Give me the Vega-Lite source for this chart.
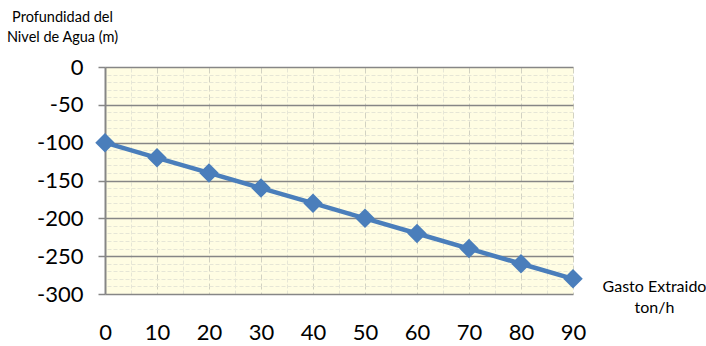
{
  "$schema": "https://vega.github.io/schema/vega-lite/v6.json",
  "width": 468,
  "height": 227,
  "autosize": {"type": "none"},
  "padding": {"left": 105, "top": 67, "right": 133, "bottom": 52},
  "background": "white",
  "config": {
    "view": {"fill": "#fffde3", "stroke": null},
    "font": "Lato"
  },
  "data": {
    "values": [
      {"gasto": 0, "prof": -100},
      {"gasto": 10, "prof": -120},
      {"gasto": 20, "prof": -140},
      {"gasto": 30, "prof": -160},
      {"gasto": 40, "prof": -180},
      {"gasto": 50, "prof": -200},
      {"gasto": 60, "prof": -220},
      {"gasto": 70, "prof": -240},
      {"gasto": 80, "prof": -260},
      {"gasto": 90, "prof": -280}
    ]
  },
  "resolve": {"axis": {"x": "independent", "y": "independent"}},
  "layer": [
    {
      "mark": {"type": "line", "color": "#4a7ebb", "strokeWidth": 4.5},
      "encoding": {
        "x": {
          "field": "gasto", "type": "quantitative",
          "scale": {"domain": [0, 90], "nice": false, "zero": false},
          "axis": {
            "orient": "top", "values": [5, 15, 25, 35, 45, 55, 65, 75, 85],
            "labels": false, "ticks": false, "domain": false, "title": null,
            "grid": true, "gridColor": "#e6e6d6", "gridDash": [4, 2], "gridWidth": 1
          }
        },
        "y": {
          "field": "prof", "type": "quantitative",
          "scale": {"domain": [-300, 0], "nice": false},
          "axis": {
            "orient": "right",
            "values": [-10, -20, -30, -40, -60, -70, -80, -90, -110, -120, -130, -140, -160, -170, -180, -190, -210, -220, -230, -240, -260, -270, -280, -290],
            "labels": false, "ticks": false, "domain": false, "title": null,
            "grid": true, "gridColor": "#e6e6d6", "gridDash": [4, 2], "gridWidth": 1
          }
        }
      }
    },
    {
      "mark": {"type": "point", "shape": "diamond", "filled": true, "opacity": 1, "color": "#4a7ebb", "size": 380},
      "encoding": {
        "x": {
          "field": "gasto", "type": "quantitative",
          "scale": {"domain": [0, 90], "nice": false, "zero": false},
          "axis": {
            "orient": "bottom", "values": [0, 10, 20, 30, 40, 50, 60, 70, 80, 90],
            "labelFontSize": 22, "labelColor": "#000000", "labelPadding": 28, "labelFont": "Lato",
            "labelFlush": false, "labelOverlap": false,
            "ticks": false, "domain": false,
            "grid": true, "gridColor": "#d2d2c2", "gridDash": [6, 3], "gridWidth": 1,
            "title": ["Gasto Extraido", "ton/h"],
            "titleFontSize": 16, "titleFontWeight": "normal", "titleColor": "#000000",
            "titleAnchor": null, "titleAlign": "center", "titleBaseline": "top",
            "titleX": 549, "titleY": -16, "titleLineHeight": 21, "titleFont": "Lato"
          }
        },
        "y": {
          "field": "prof", "type": "quantitative",
          "scale": {"domain": [-300, 0], "nice": false},
          "axis": {
            "orient": "left", "values": [0, -50, -100, -150, -200, -250, -300],
            "labelExpr": "'' + datum.value",
            "labelFontSize": 22, "labelColor": "#000000", "labelPadding": 15, "labelFont": "Lato",
            "labelOverlap": false,
            "ticks": true, "tickSize": 7, "tickColor": "#868686", "tickWidth": 1.5,
            "domain": true, "domainColor": "#868686", "domainWidth": 2,
            "grid": true, "gridColor": "#868686", "gridWidth": 1.5,
            "title": ["Profundidad del", "Nivel de Agua (m)"],
            "titleFontSize": 14.5, "titleFontWeight": "normal", "titleColor": "#000000",
            "titleAngle": 0, "titleAnchor": null, "titleAlign": "center", "titleBaseline": "top",
            "titleX": -43, "titleY": -57, "titleLineHeight": 20, "titleFont": "Lato"
          }
        }
      }
    }
  ]
}
